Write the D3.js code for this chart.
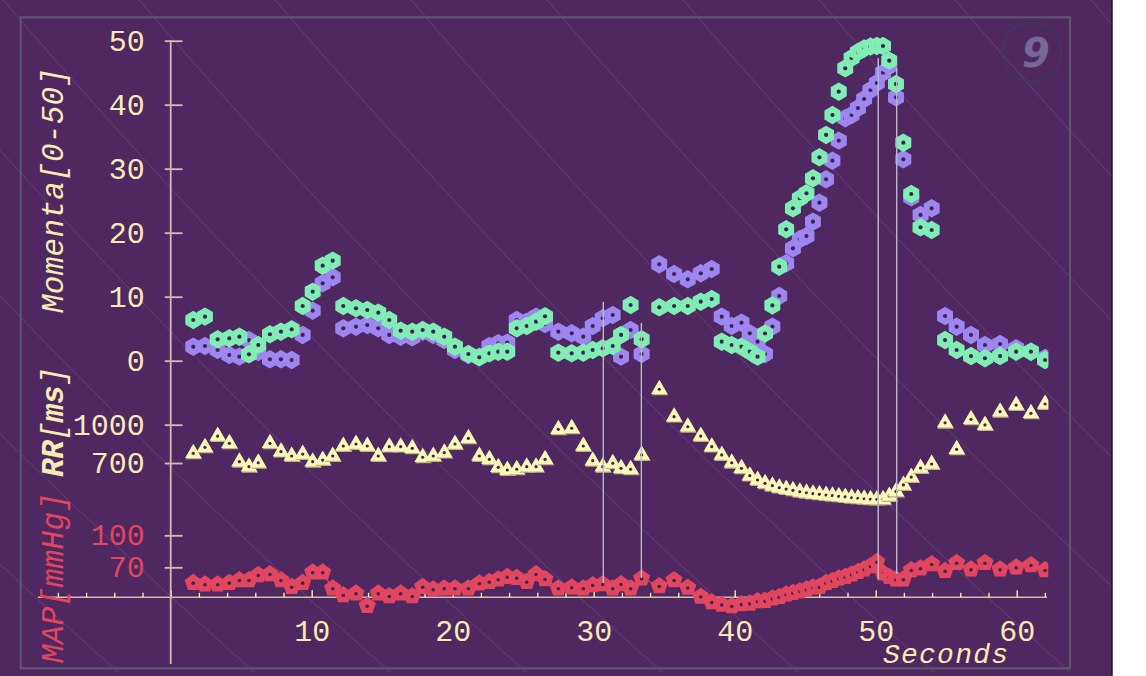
<!DOCTYPE html>
<html>
<head>
<meta charset="utf-8">
<script src="https://cdn.jsdelivr.net/npm/d3@7"></script>
<style>
  html, body { margin: 0; padding: 0; background: #ffffff; }
  svg { display: block; }
</style>
</head>
<body>
<svg id="chart" width="1146" height="676"></svg>
<script>
// Beat-to-beat recording: one entry per heart beat.
const beatTime = [
  1.60, 2.43, 3.33, 4.16, 4.87, 5.55, 6.21, 7.04, 7.82, 8.58,
  9.36, 10.07, 10.78, 11.49, 12.24, 13.14, 13.94, 14.72, 15.50, 16.31,
  17.13, 17.87, 18.62, 19.40, 20.16, 21.11, 21.89, 22.60, 23.23, 23.87,
  24.54, 25.25, 25.91, 26.55, 27.49, 28.44, 29.26, 29.93, 30.64, 31.35,
  31.94, 32.62, 33.40, 34.65, 35.70, 36.67, 37.59, 38.37, 39.08, 39.79,
  40.48, 41.07, 41.62, 42.15, 42.67, 43.16, 43.65, 44.13, 44.62, 45.09,
  45.55, 46.01, 46.48, 46.93, 47.38, 47.84, 48.29, 48.74, 49.18, 49.63,
  50.08, 50.52, 50.96, 51.44, 51.96, 52.52, 53.18, 53.97, 54.92, 55.74,
  56.76, 57.75, 58.82, 59.96, 61.01, 62.01
];

// RR interval [ms]
const rrMs = [
  776, 823, 911, 854, 710, 671, 702, 854, 789, 755,
  770, 710, 723, 755, 833, 849, 833, 755, 828, 828,
  815, 745, 755, 781, 849, 893, 755, 729, 666, 645,
  651, 671, 671, 729, 964, 972, 833, 718, 671, 698,
  658, 651, 763, 1277, 1063, 984, 911, 828, 763, 702,
  658, 601, 567, 541, 522, 507, 496, 486, 475, 467,
  460, 455, 449, 444, 439, 434, 428, 424, 420, 416,
  414, 416, 442, 477, 528, 590, 661, 692, 1015, 807,
  1042, 998, 1102, 1154, 1089, 1162
];

// Mean arterial pressure [mmHg]
const mapMmHg = [
  55.6, 54.1, 54.1, 55.6, 58.1, 58.1, 62.8, 63.7, 58.1, 51.8,
  55.6, 65.3, 65.3, 50.3, 44.0, 45.6, 34.0, 45.6, 43.1, 45.6,
  43.1, 51.8, 49.4, 50.3, 50.3, 50.3, 55.0, 56.5, 58.8, 61.2,
  60.3, 56.5, 63.7, 59.0, 50.3, 51.3, 50.3, 53.4, 54.3, 50.3,
  54.3, 50.3, 59.7, 52.5, 58.1, 51.1, 42.6, 37.5, 35.1, 33.7,
  35.6, 36.2, 38.4, 38.7, 40.9, 42.4, 44.7, 46.2, 47.8, 49.4,
  51.3, 51.8, 55.6, 57.4, 59.7, 61.2, 63.4, 65.9, 68.1, 71.2,
  75.2, 64.4, 61.2, 58.8, 58.8, 67.5, 69.1, 73.1, 66.8, 74.3,
  68.1, 74.3, 68.1, 70.0, 72.2, 67.5
];

// Momenta, first channel (lavender)
const momentaA = [
  2.19, 2.30, 1.67, 0.89, 0.63, 3.23, 1.36, 0.22, 0.22, 0.11,
  4.02, 7.81, 12.09, 13.03, 5.06, 5.31, 5.58, 5.06, 4.02, 3.75,
  3.66, 4.53, 4.02, 3.23, 1.67, 0.89, 0.63, 2.30, 2.72, 2.81,
  6.36, 6.09, 6.88, 5.73, 4.53, 4.28, 3.75, 5.42, 6.63, 7.14,
  0.63, 4.80, 1.05, 15.06, 13.55, 12.72, 13.66, 14.33, 6.88, 5.42,
  5.94, 4.28, 2.97, 1.05, 5.31, 10.11, 15.22, 17.56, 18.97, 19.48,
  21.72, 24.69, 28.34, 31.25, 34.38, 37.88, 38.39, 39.48, 40.89, 42.30,
  43.39, 45.00, 46.05, 41.16, 31.47, 25.53, 22.77, 23.81, 6.98, 5.31,
  4.02, 2.45, 2.61, 1.94, 1.41, 0.42
];

// Momenta, second channel (mint)
const momentaB = [
  6.36, 6.88, 3.34, 3.50, 3.75, 1.00, 2.45, 4.13, 4.53, 4.91,
  8.55, 10.78, 14.84, 15.63, 8.55, 8.19, 7.92, 7.50, 6.36, 4.69,
  4.53, 4.80, 4.53, 3.75, 2.19, 1.05, 0.53, 1.16, 1.41, 1.41,
  5.06, 5.42, 6.09, 6.94, 1.25, 1.16, 1.25, 1.67, 1.94, 2.30,
  4.02, 8.70, 3.34, 8.34, 8.55, 8.55, 9.22, 9.64, 2.97, 2.45,
  2.19, 1.41, 0.63, 4.25, 8.63, 14.69, 20.53, 23.81, 25.38, 26.16,
  28.50, 31.78, 35.27, 38.39, 42.03, 45.69, 47.30, 48.23, 48.78, 49.09,
  49.17, 49.17, 46.88, 43.23, 34.06, 26.05, 20.84, 20.42, 3.23, 1.67,
  0.73, 0.38, 0.73, 1.41, 1.41, 0.11
];

// Marked events: time [s], momenta level at the top, MAP level at the bottom
const eventTime = [30.68, 33.38, 50.18, 51.49];
const eventTopMomenta = [9.2, 5.9, 47.3, 45.7];
const eventBottomMap = [55.3, 60.0, 58.8, 63.8];

// Axis ticks
const momentaTicks = [0, 10, 20, 30, 40, 50];
const rrTicks = [700, 1000];
const mapTicks = [70, 100];
const secondLabels = [10, 20, 30, 40, 50, 60];
const secondTicks = d3.range(-8, 63, 2);

// ---- drawing ----
const W = 1146, H = 676;
const BG = "#4f2862";
const DOT = "#3c2552";
const CREAM = "#f4ecb2";
const AXIS = "#cdbfae";
const MINT = "#80eeb4";
const LAVENDER = "#9e86f0";
const BUTTER = "#fcf8b8";
const ROSE = "#e2465f";
const MONO = "'Liberation Mono', 'DejaVu Sans Mono', monospace";

const svg = d3.select("#chart");

svg.append("rect").attr("x", 0).attr("y", 0).attr("width", 1112).attr("height", H).attr("fill", BG);
svg.append("line").attr("x1", 1112).attr("x2", 1112).attr("y1", 0).attr("y2", H)
  .attr("stroke", "#24122e").attr("stroke-width", 1.5);

// faint, gently bending diagonal hatch over the backdrop
svg.append("defs").append("clipPath").attr("id", "bgClip")
  .append("rect").attr("x", 0).attr("y", 0).attr("width", 1111).attr("height", H);
const hatch = svg.append("g").attr("clip-path", "url(#bgClip)")
  .attr("fill", "none").attr("stroke", "#ffffff").attr("stroke-opacity", 0.12).attr("stroke-width", 1);
const hatchShift = y => -2500 * Math.log(1 - 0.0004 * y / 1.16);
const hatchLine = d3.line().curve(d3.curveBasis);
for (let x0 = 3 - 136 * 6; x0 <= 1120; x0 += 136) {
  const pts = d3.range(0, H + 20, 20).map(y => [x0 + hatchShift(y), y]);
  hatch.append("path").attr("d", hatchLine(pts));
}

// frame
svg.append("rect").attr("x", 20.7).attr("y", 17.3).attr("width", 1049.3).attr("height", 651)
  .attr("fill", "none").attr("stroke", "#5b596b").attr("stroke-width", 2);

// badge
svg.append("circle").attr("cx", 1031.5).attr("cy", 52.2).attr("r", 29.5)
  .attr("fill", "none").attr("stroke", "#3f3a55").attr("stroke-width", 1.6);
svg.append("text").attr("x", 1036).attr("y", 67).attr("text-anchor", "middle")
  .attr("font-family", "'DejaVu Sans', sans-serif").attr("font-weight", "bold").attr("font-style", "italic")
  .attr("font-size", 40).attr("fill", "#76679a").text("9");

// scales
const x = d3.scaleLinear().domain([0, 62]).range([170.7, 1044.9]);
const yMom = d3.scaleLinear().domain([0, 50]).range([360.7, 40.7]);
const yRR = d3.scaleLinear().domain([700, 1000]).range([463, 424.7]);
const yMAP = d3.scaleLinear().domain([70, 100]).range([567.3, 535.3]);

// x axis
const xAxisY = 597.3;
svg.append("line").attr("x1", 38).attr("x2", 1047).attr("y1", xAxisY).attr("y2", xAxisY)
  .attr("stroke", AXIS).attr("stroke-width", 1.6);
const xAxis = svg.append("g").attr("transform", `translate(0,${xAxisY})`)
  .call(d3.axisBottom(x).tickValues(secondTicks).tickSize(-4.5).tickPadding(22)
    .tickFormat(d => secondLabels.includes(d) ? String(d) : ""));
xAxis.select(".domain").remove();
xAxis.selectAll(".tick line").attr("stroke", CREAM).attr("stroke-width", 1.4)
  .attr("y2", d => d % 10 === 0 ? -7 : -4.5);
xAxis.selectAll(".tick text").attr("fill", CREAM).attr("font-family", MONO).attr("font-size", 30);

// y axis line
const yAxisX = 170.7;
svg.append("line").attr("x1", yAxisX).attr("x2", yAxisX).attr("y1", 40).attr("y2", 664)
  .attr("stroke", AXIS).attr("stroke-width", 1.8);

function leftAxis(scale, ticks, color) {
  const g = svg.append("g").attr("transform", `translate(${yAxisX},0)`)
    .call(d3.axisLeft(scale).tickValues(ticks).tickSize(6).tickPadding(20).tickFormat(d3.format("d")));
  g.select(".domain").remove();
  g.selectAll(".tick line").attr("x1", 12).attr("stroke", AXIS).attr("stroke-width", 1.8);
  g.selectAll(".tick text").attr("fill", color).attr("font-family", MONO).attr("font-size", 30);
  return g;
}
leftAxis(yMom, momentaTicks, CREAM);
leftAxis(yRR, rrTicks, CREAM);
leftAxis(yMAP, mapTicks, ROSE);

// stacked vertical axis titles
function vTitle(bottomY, length, parts, color) {
  const t = svg.append("text")
    .attr("transform", `translate(63,${bottomY}) rotate(-90)`)
    .attr("font-family", MONO).attr("font-size", 31).attr("font-style", "italic")
    .attr("fill", color).attr("textLength", length).attr("lengthAdjust", "spacing");
  parts.forEach(p => t.append("tspan").attr("font-weight", p.bold ? "bold" : "normal").text(p.s));
}
vTitle(663, 170, [{ s: "MAP[mmHg]" }], ROSE);
vTitle(477, 110, [{ s: "RR", bold: true }, { s: "[" }, { s: "ms", bold: true }, { s: "]" }], CREAM);
vTitle(313, 245, [{ s: "Momenta[0-50]" }], CREAM);

svg.append("text").attr("x", 883).attr("y", 663)
  .attr("font-family", MONO).attr("font-size", 28).attr("font-style", "italic")
  .attr("fill", CREAM).attr("textLength", 125).attr("lengthAdjust", "spacing").text("Seconds");

// marker shapes
function polygon(n, r, rot) {
  const pts = d3.range(n).map(i => {
    const a = rot + i * 2 * Math.PI / n;
    return [r * Math.sin(a), -r * Math.cos(a)];
  });
  return "M" + pts.map(p => p[0].toFixed(2) + "," + p[1].toFixed(2)).join("L") + "Z";
}
const hexPath = polygon(6, 9.2, 0);
const pentPath = polygon(5, 9, 0);
const triPath = polygon(3, 9.5, 0);

const beats = beatTime.map((t, i) => ({
  t, rr: rrMs[i], map: mapMmHg[i], a: momentaA[i], b: momentaB[i]
}));

svg.select("defs").append("clipPath").attr("id", "plotClip")
  .append("rect").attr("x", 0).attr("y", 0).attr("width", 1048.3).attr("height", H);
const plot = svg.append("g").attr("clip-path", "url(#plotClip)");

function markers(cls, path, fill, yAcc, dotDy, dotR, shadow) {
  const g = plot.append("g").attr("class", cls);
  const m = g.selectAll("g").data(beats).join("g")
    .attr("transform", d => `translate(${x(d.t)},${yAcc(d)})`);
  if (shadow) m.append("path").attr("d", path).attr("fill", shadow).attr("transform", "translate(0.8,1.2)");
  m.append("path").attr("d", path).attr("fill", fill);
  m.append("circle").attr("cx", 0).attr("cy", dotDy).attr("r", dotR).attr("fill", DOT);
}

// RR interval triangles
markers("rr", triPath, BUTTER, d => yRR(d.rr), 0, 1.6, "#bdb585");

// MAP trace and pentagons
plot.append("path").datum(beats)
  .attr("d", d3.line().x(d => x(d.t)).y(d => yMAP(d.map)))
  .attr("fill", "none").attr("stroke", ROSE).attr("stroke-width", 1.2);
markers("map", pentPath, ROSE, d => yMAP(d.map), 0.5, 1.8);

// momenta hexagons
markers("momA", hexPath, LAVENDER, d => yMom(d.a), 0, 2.1);
markers("momB", hexPath, MINT, d => yMom(d.b), 0, 2.1);

// event markers
const ev = eventTime.map((t, i) => ({ t, top: eventTopMomenta[i], bottom: eventBottomMap[i] }));
svg.append("g").selectAll("line").data(ev).join("line")
  .attr("x1", d => x(d.t)).attr("x2", d => x(d.t))
  .attr("y1", d => yMom(d.top)).attr("y2", d => yMAP(d.bottom))
  .attr("stroke", "#bdbac4").attr("stroke-width", 1.4);
</script>
</body>
</html>
